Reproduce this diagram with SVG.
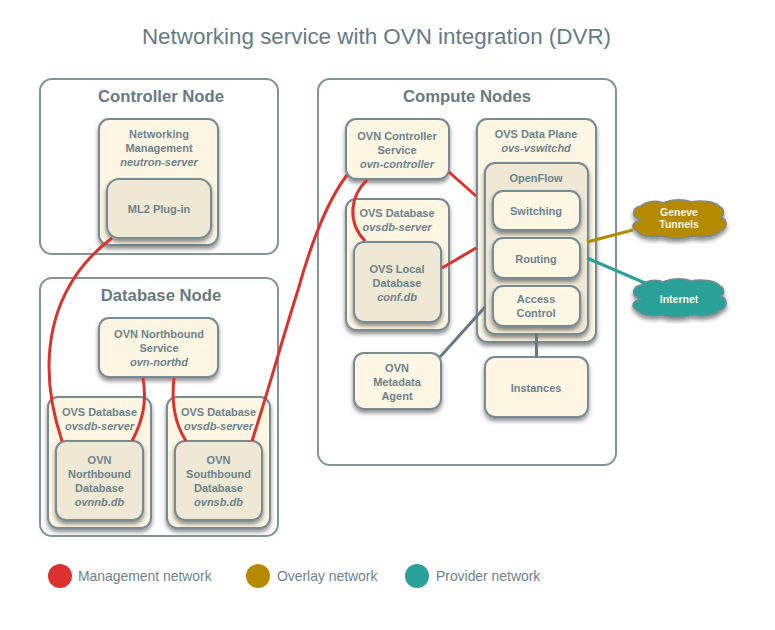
<svg xmlns="http://www.w3.org/2000/svg" width="775" height="630" viewBox="0 0 775 630">
<style>
text{font-family:"Liberation Sans",Arial,Helvetica,sans-serif;fill:#657b83;text-anchor:middle}
.title{font-size:22.4px}
.ct{font-size:16.700px;font-weight:bold}
.t{font-size:11px;font-weight:bold;fill:#6c838b}
.i{font-style:italic}
.lg{font-size:13.900px;text-anchor:start;fill:#6c838b}
.cl{font-size:10.500px;font-weight:bold;fill:#fdf6e3}
.c{fill:#fff;stroke:#839496;stroke-width:2}
.a{fill:#fdf6e3;stroke:#768b94;stroke-width:2;filter:url(#s)}
.b{fill:#eee8d5;stroke:#768b94;stroke-width:2;filter:url(#s)}
.m,.o,.p,.g{fill:none;stroke-width:3}
.m{stroke:#dc322f}.o{stroke:#b58900}.p{stroke:#2aa198}.g{stroke:#657b83}
</style>
<defs>
<filter id="s" x="-15%" y="-15%" width="130%" height="130%"><feDropShadow dx="0" dy="3" stdDeviation="2" flood-color="#000" flood-opacity="0.45"/></filter>
<path id="cloud" d="M9 20C-1 18-1 8 9 6C14 1 26 0 31 3C38-1 52-1 59 2C68 0 84 1 88 7C92 8 93 15 89 17C96 20 96 29 88 31C84 37 68 38 60 36C52 39 36 39 30 36C22 38 8 37 5 31C-1 29-1 22 9 20Z"/>
</defs>
<rect width="775" height="630" fill="#fff"/>
<text class="title" x="376.500" y="44">Networking service with OVN integration (DVR)</text>

<g id="controller-node"><rect class="c" x="40" y="79" width="238" height="175" rx="12"/><text class="ct" x="161" y="102">Controller Node</text></g>
<g id="database-node"><rect class="c" x="40" y="278" width="238" height="258" rx="12"/><text class="ct" x="161" y="301">Database Node</text></g>
<g id="compute-nodes"><rect class="c" x="318" y="79" width="298" height="386" rx="12"/><text class="ct" x="467" y="102">Compute Nodes</text></g>

<g id="networking-management"><rect class="a" x="99" y="119" width="119" height="126" rx="10"/><text class="t" x="159" y="138">Networking</text><text class="t" x="159" y="152">Management</text><text class="t i" x="159" y="166">neutron-server</text></g>
<g id="ml2-plugin"><rect class="b" x="107" y="179" width="104" height="59" rx="12"/><text class="t" x="159" y="213">ML2 Plug-in</text></g>

<g id="ovn-northbound-service"><rect class="a" x="99" y="318" width="119" height="59" rx="10"/><text class="t" x="159" y="338">OVN Northbound</text><text class="t" x="159" y="352">Service</text><text class="t i" x="159" y="366">ovn-northd</text></g>
<g id="ovs-database-nb"><rect class="a" x="48" y="397" width="103" height="131" rx="10"/><text class="t" x="99.500" y="416">OVS Database</text><text class="t i" x="99.500" y="430">ovsdb-server</text></g>
<g id="ovn-nb-database"><rect class="b" x="56" y="441" width="87" height="79" rx="10"/><text class="t" x="99.500" y="464">OVN</text><text class="t" x="99.500" y="478">Northbound</text><text class="t" x="99.500" y="492">Database</text><text class="t i" x="99.500" y="506">ovnnb.db</text></g>
<g id="ovs-database-sb"><rect class="a" x="167" y="397" width="103" height="131" rx="10"/><text class="t" x="218.500" y="416">OVS Database</text><text class="t i" x="218.500" y="430">ovsdb-server</text></g>
<g id="ovn-sb-database"><rect class="b" x="175" y="441" width="87" height="79" rx="10"/><text class="t" x="218.500" y="464">OVN</text><text class="t" x="218.500" y="478">Southbound</text><text class="t" x="218.500" y="492">Database</text><text class="t i" x="218.500" y="506">ovnsb.db</text></g>

<g id="ovn-controller-service"><rect class="a" x="346" y="119" width="103" height="60" rx="10"/><text class="t" x="397" y="140">OVN Controller</text><text class="t" x="397" y="154">Service</text><text class="t i" x="397" y="168">ovn-controller</text></g>
<g id="ovs-database-local"><rect class="a" x="346" y="199" width="103" height="131" rx="10"/><text class="t" x="397" y="217">OVS Database</text><text class="t i" x="397" y="231">ovsdb-server</text></g>
<g id="ovs-local-database"><rect class="b" x="354" y="242" width="87" height="80" rx="10"/><text class="t" x="397" y="273">OVS Local</text><text class="t" x="397" y="287">Database</text><text class="t i" x="397" y="301">conf.db</text></g>
<g id="ovs-data-plane"><rect class="a" x="477" y="119" width="119" height="223" rx="10"/><text class="t" x="536" y="138">OVS Data Plane</text><text class="t i" x="536" y="152">ovs-vswitchd</text></g>
<g id="openflow"><rect class="b" x="485" y="163" width="103" height="171" rx="10"/><text class="t" x="536" y="182">OpenFlow</text></g>
<g id="switching"><rect class="a" x="493" y="191" width="87" height="39" rx="10"/><text class="t" x="536" y="215">Switching</text></g>
<g id="routing"><rect class="a" x="493" y="238" width="87" height="40" rx="10"/><text class="t" x="536" y="263">Routing</text></g>
<g id="access-control"><rect class="a" x="493" y="286" width="87" height="40" rx="10"/><text class="t" x="536" y="303">Access</text><text class="t" x="536" y="317">Control</text></g>
<g id="ovn-metadata-agent"><rect class="a" x="354" y="353" width="87" height="56" rx="10"/><text class="t" x="397" y="372">OVN</text><text class="t" x="397" y="386">Metadata</text><text class="t" x="397" y="400">Agent</text></g>
<g id="instances"><rect class="a" x="485" y="357" width="103" height="60" rx="10"/><text class="t" x="536" y="392">Instances</text></g>

<g id="geneve-tunnels"><use href="#cloud" x="632" y="200" fill="#b58900" stroke="#768b94" stroke-width="1.500" filter="url(#s)"/><text class="cl" x="679" y="216">Geneve</text><text class="cl" x="679" y="228">Tunnels</text></g>
<g id="internet"><use href="#cloud" x="632" y="279" fill="#2aa198" stroke="#768b94" stroke-width="1.500" filter="url(#s)"/><text class="cl" x="679" y="303">Internet</text></g>

<g id="connectors">
<path class="m" d="M112 238C72 268 49 312 49 367C49 395 55 420 62 441"/>
<path class="m" d="M143 378C147 402 143 420 132 441"/>
<path class="m" d="M174 378C171 404 175 424 186 441"/>
<path class="m" d="M252 441C270 385 282 340 298 290C312 240 328 200 347 175"/>
<path class="m" d="M367 180C350 196 347 222 365 241"/>
<path class="m" d="M449 172L476 196"/>
<path class="m" d="M442 268L476 248"/>
<path class="g" d="M440 357L485 307"/>
<path class="g" d="M536.500 333V357"/>
<path class="o" d="M587 242L633 230"/>
<path class="p" d="M587 258L645 283"/>
</g>

<g id="legend">
<circle cx="60" cy="576" r="12" fill="#dc322f"/><text class="lg" x="78" y="581">Management network</text>
<circle cx="258" cy="576" r="12" fill="#b58900"/><text class="lg" x="277" y="581">Overlay network</text>
<circle cx="417" cy="576" r="12" fill="#2aa198"/><text class="lg" x="436" y="581">Provider network</text>
</g>
</svg>
